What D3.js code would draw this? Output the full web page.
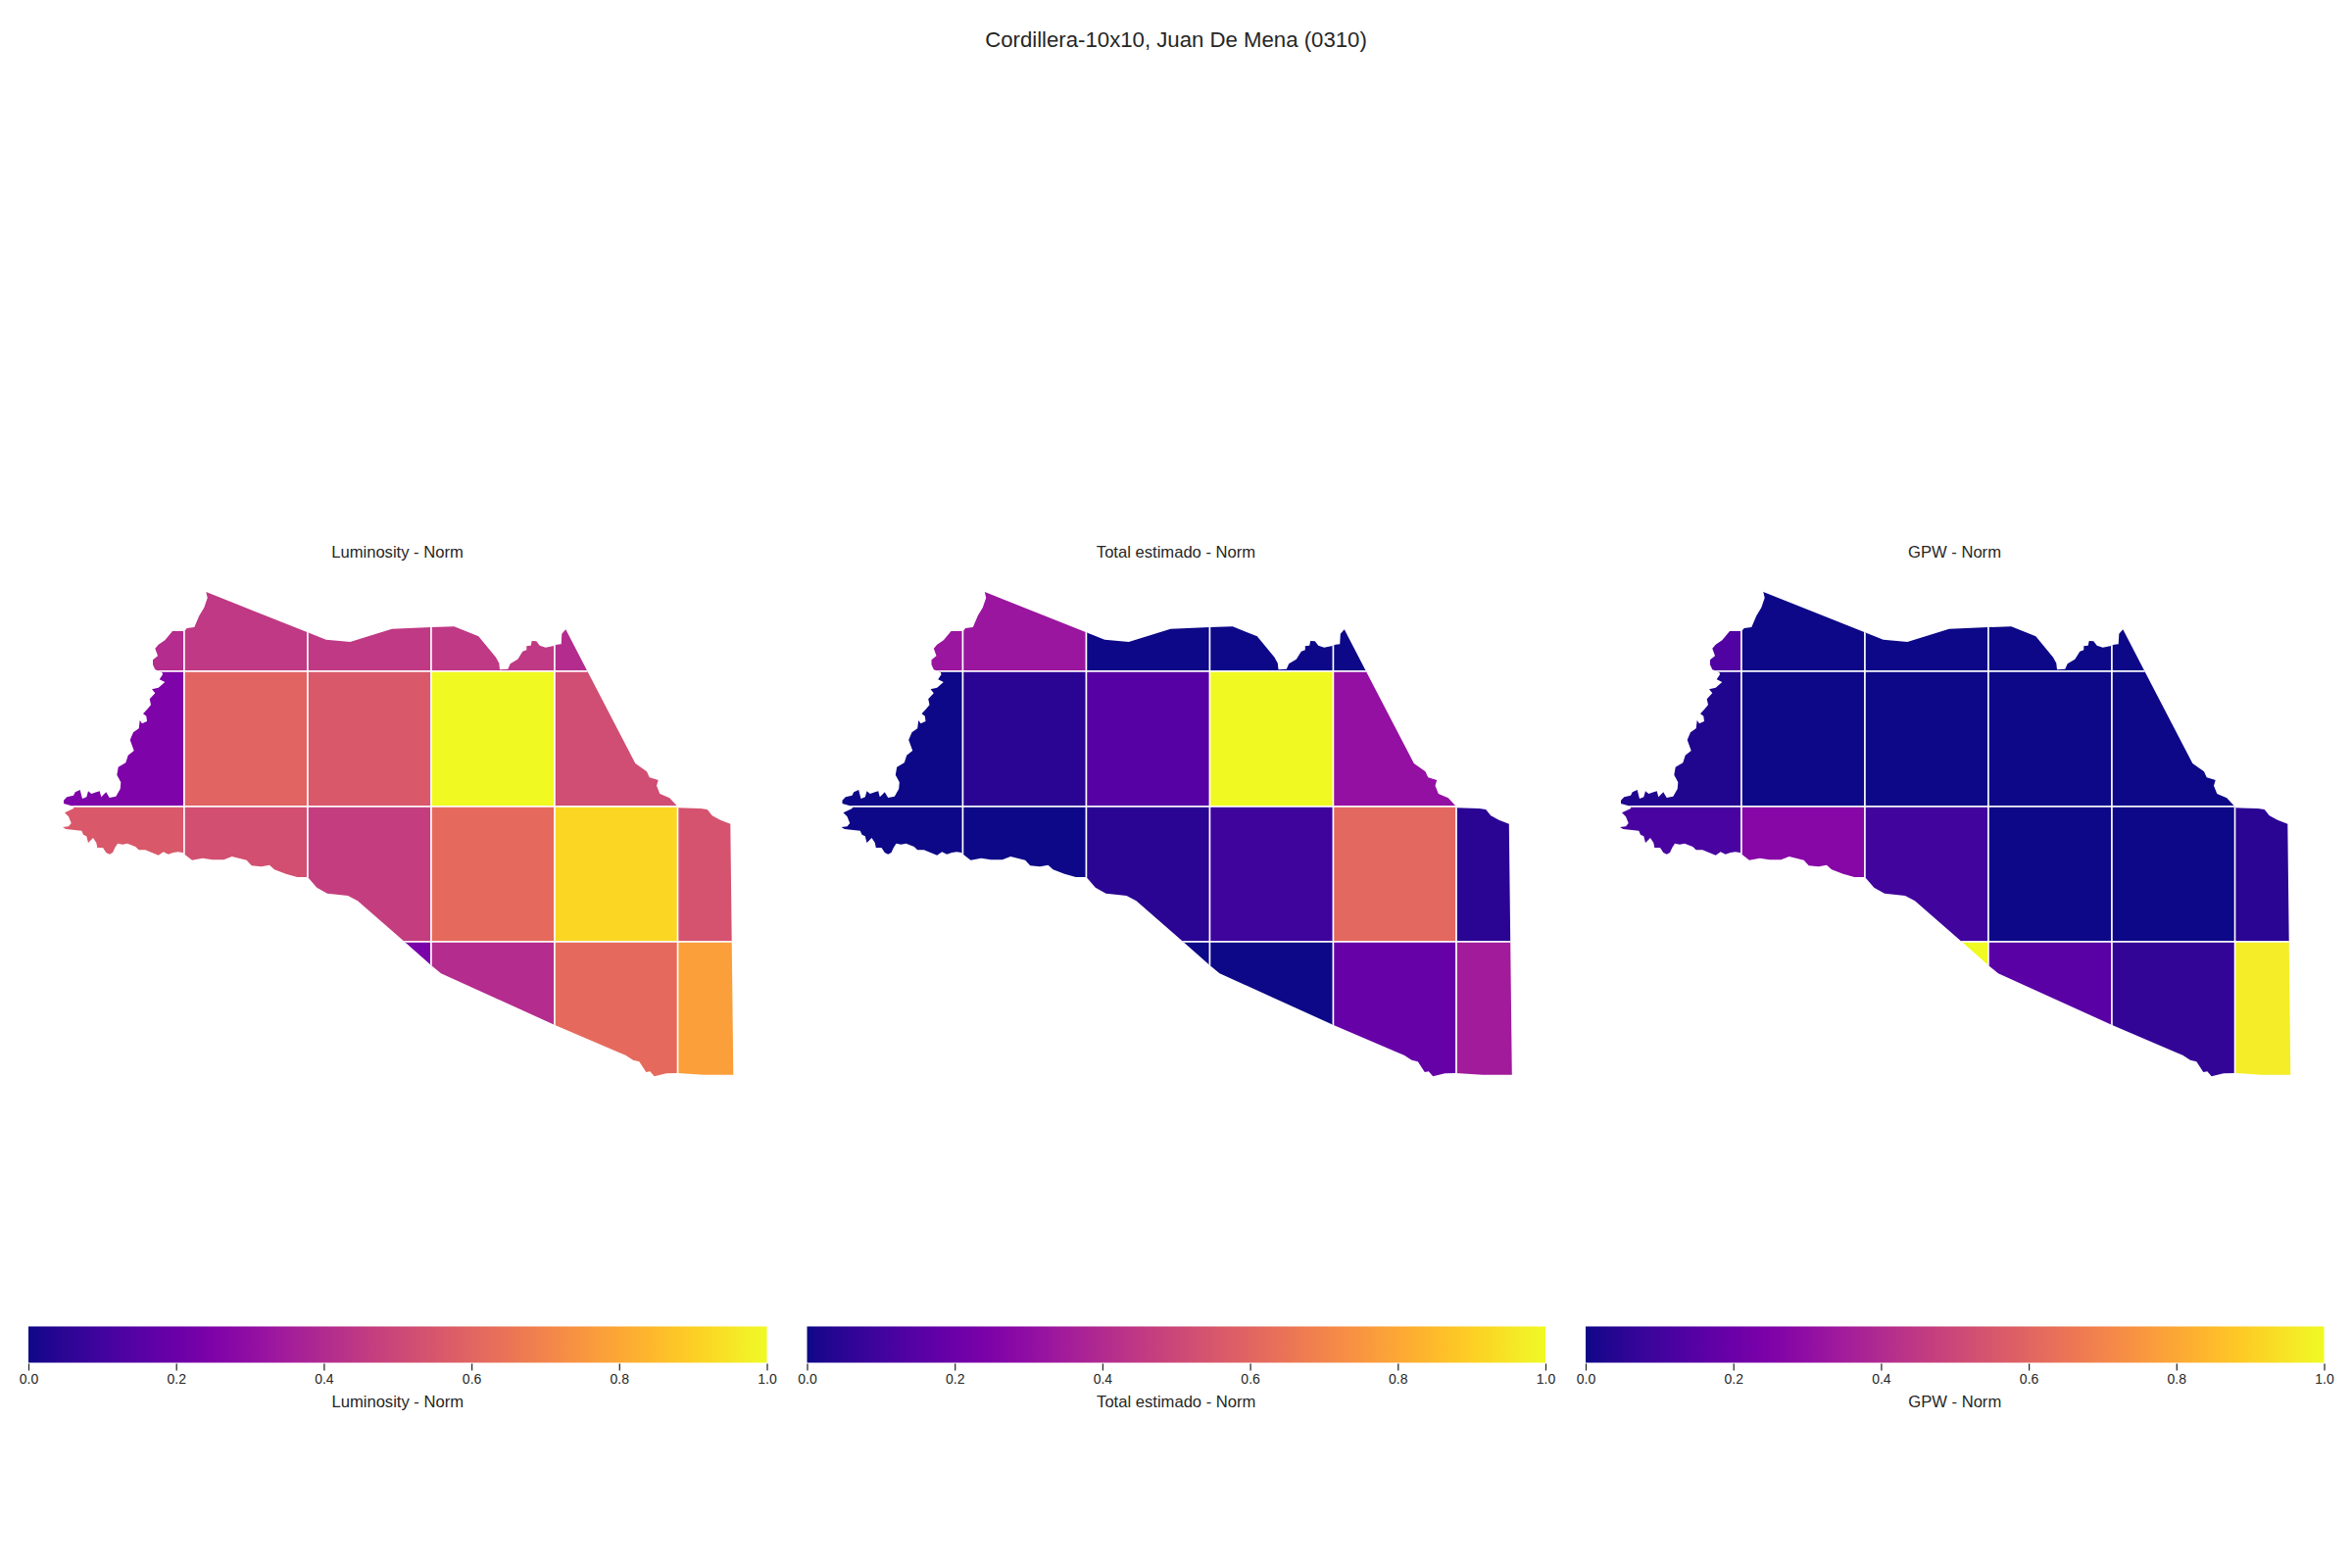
<!DOCTYPE html>
<html lang="en">
    <head>
        <meta charset="utf-8">
        <title>Cordillera-10x10, Juan De Mena (0310)</title>
        <script src='https://cdnjs.cloudflare.com/ajax/libs/d3/7.8.5/d3.min.js'></script>
        <style>
            body { margin: 0; background: #fff; }
            text { font-family: 'Liberation Sans', Arial, sans-serif; fill: #262626; }
        </style>
    </head>
    <body>
        <svg width='2400' height='1600'></svg>
        <script>
            var figTitle = 'Cordillera-10x10, Juan De Mena (0310)';
            var panelNames = ['Luminosity - Norm', 'Total estimado - Norm', 'GPW - Norm'];
            var barTicks = [0, 0.2, 0.4, 0.6, 0.8, 1];

            // grid edges in map units, same units as the outline
            var colEdges = [-126, 0, 126, 252, 378, 503.6, 629];
            var rowEdges = [138, 0, -138, -276, -414];

            // rows north to south, columns west to east
            var luminosity = [
                [0.41, 0.45, 0.45, 0.45, 0.41, null],
                [0.25, 0.60, 0.56, 1.00, 0.52, null],
                [0.56, 0.53, 0.47, 0.62, 0.92, 0.54],
                [null, null, 0.24, 0.41, 0.62, 0.78]
            ];
            var totalEstimado = [
                [0.33, 0.33, 0.00, 0.00, 0.00, null],
                [0.00, 0.05, 0.15, 1.00, 0.31, null],
                [0.00, 0.00, 0.05, 0.09, 0.61, 0.05],
                [null, null, 0.00, 0.00, 0.19, 0.35]
            ];
            var gpw = [
                [0.14, 0.00, 0.00, 0.00, 0.00, null],
                [0.03, 0.00, 0.00, 0.00, 0.00, null],
                [0.12, 0.27, 0.10, 0.00, 0.00, 0.05],
                [null, null, 1.00, 0.16, 0.07, 0.97]
            ];
            var panelValues = [luminosity, totalEstimado, gpw];

            var outlineEast = [22.3, 125.3, 144.7, 169.3, 212, 252, 275.3, 300.3, 318, 321.3, 322, 330.3, 332.7, 340.3, 345.3, 349.3, 349.3, 353.7, 354.7, 359.3, 362.7, 368.7, 377.3, 380.3, 384.7, 385.3, 389.3, 411.3, 460.3, 472, 474.7, 483.7, 482, 485.3, 495.3, 502.7, 503.7, 527, 533.7, 538.7, 547, 557.3, 558.7, 560.3, 530.3, 503, 492, 479.7, 475.3, 471.3, 464.3, 458, 450.3, 443.7, 377.7, 262, 252, 223.7, 177, 167, 146, 135.3, 126, 115.3, 103.7, 92, 87, 78.7, 68.7, 63.7, 48.7, 40.3, 28.7, 18.7, 8, 0.3, -1.3, -6.3, -11.3, -16.3, -21.3, -26.3, -33, -39.7, -46.3, -49.7, -58, -63, -68, -70.7, -73, -76.3, -79.7, -83, -88.7, -89.7, -93, -98, -99.7, -103, -104.7, -120.7, -124, -118, -115.3, -118, -122, -113, -112.3, -123, -123, -119.7, -113, -111.3, -106.3, -105.3, -104, -99.7, -98, -94.7, -89.7, -86.3, -84.7, -79.7, -76.3, -69.7, -65.3, -64.7, -68.7, -67.3, -59.7, -57.3, -51.3, -55.3, -52, -46.3, -45.3, -43, -38, -38.7, -42, -38, -34, -35.3, -29.7, -33, -26.3, -19.7, -25.3, -22, -22.7, -29.7, -32, -32, -27, -29.7, -26.3, -19.7, -12, 0.3, 2.7, 10.3, 15.3, 20.3, 23.7];
            var outlineNorth = [81, 40, 32.3, 30, 43.3, 45, 45.7, 35.7, 14.3, 8.3, 1.7, 2.3, 7.7, 12.3, 20.3, 21.7, 25.7, 26.3, 31, 30.7, 26.3, 24.3, 26, 27.3, 27.7, 38.3, 42.7, 0.3, -94, -102.3, -108.3, -111, -116.7, -125, -129.3, -137.3, -139.3, -140, -141, -147.3, -151.7, -155.7, -275, -411.7, -411.7, -410, -410.3, -413.3, -408.3, -409, -398.3, -396.7, -391.7, -389, -360.7, -308.3, -300, -275, -234.3, -229, -226.7, -220.7, -210, -210, -206.7, -202.3, -197.7, -199.3, -198.3, -192.7, -189, -192.3, -192.3, -190.7, -192.7, -186.7, -185, -184.3, -185, -186.7, -184.3, -187.7, -185, -182.3, -182.3, -179, -175.7, -176.7, -175.7, -180, -185, -186.7, -185, -180, -180, -175, -170, -175, -168.3, -166.7, -162.7, -161, -159, -158.3, -155, -148.3, -144.3, -140, -138, -135, -131.7, -128.3, -126.7, -123.3, -121, -125, -130, -128.3, -122.3, -125, -123.3, -122.3, -128.3, -123.3, -129, -127.7, -120, -113.3, -105.7, -97.7, -93.3, -85.7, -81, -70, -62.3, -58.3, -50, -53.3, -51, -45.7, -43.3, -39, -34.3, -28.3, -22.3, -18.3, -16.7, -11, -8.3, -3.3, -0.7, 1.7, 6.7, 11.7, 15.7, 23.3, 27.3, 31.7, 41, 41, 44, 45, 56.7, 65, 75];

            var panelStep = 794.5;
            var svg = d3.select('svg');
            var color = d3.scaleSequential(d3.interpolatePlasma).domain([0, 1]);
            var yScale = d3.scaleLinear().domain([138, -414]).range([547, 1099]);

            svg.append('text')
                .attr('x', 1200)
                .attr('y', 48)
                .attr('text-anchor', 'middle')
                .style('font-size', '22.2px')
                .text(figTitle);

            // colorbar gradient
            var grad = svg.append('defs').append('linearGradient').attr('id', 'plasmaBar');
            grad.selectAll('stop')
                .data(d3.range(0, 1.0001, 1 / 64))
                .enter()
                .append('stop')
                .attr('offset', d => d)
                .attr('stop-color', d => color(d));

            panelNames.forEach((name, p) => {
                var off = p * panelStep;
                var xScale = d3.scaleLinear().domain([-126, 629]).range([62 + off, 817 + off]);
                var line = d3.line().x(d => xScale(d[0])).y(d => yScale(d[1]));
                var outline = d3.zip(outlineEast, outlineNorth);

                svg.select('defs').append('clipPath')
                    .attr('id', 'shape' + p)
                    .append('path')
                    .attr('d', line(outline) + 'Z');

                var cells = [];
                panelValues[p].forEach((row, r) => row.forEach((v, c) => {
                    if (v !== null) cells.push({r: r, c: c, v: v});
                }));

                var g = svg.append('g').attr('clip-path', 'url(#shape' + p + ')');
                g.selectAll('rect.cell')
                    .data(cells)
                    .enter()
                    .append('rect')
                    .attr('class', 'cell')
                    .attr('x', d => xScale(colEdges[d.c]))
                    .attr('y', d => yScale(rowEdges[d.r]))
                    .attr('width', d => xScale(colEdges[d.c + 1]) - xScale(colEdges[d.c]))
                    .attr('height', d => yScale(rowEdges[d.r + 1]) - yScale(rowEdges[d.r]))
                    .style('fill', d => color(d.v))
                    .style('stroke', '#fff')
                    .style('stroke-width', 1.5);

                svg.append('text')
                    .attr('x', 405.5 + off)
                    .attr('y', 569)
                    .attr('text-anchor', 'middle')
                    .style('font-size', '16.6px')
                    .text(name);

                // colorbar
                var barScale = d3.scaleLinear().domain([0, 1]).range([29 + off, 782.5 + off]);
                svg.append('rect')
                    .attr('x', barScale(0))
                    .attr('y', 1353.5)
                    .attr('width', barScale(1) - barScale(0))
                    .attr('height', 37)
                    .style('fill', 'url(#plasmaBar)');

                var axis = d3.axisBottom(barScale)
                    .tickValues(barTicks)
                    .tickFormat(d3.format('.1f'))
                    .tickSize(7)
                    .tickPadding(4);
                var ag = svg.append('g').attr('transform', 'translate(0,1391.5)').call(axis);
                ag.select('.domain').remove();
                ag.selectAll('line').style('stroke', '#262626').style('stroke-width', 1.25);
                ag.selectAll('text').style('font-size', '14px').style('font-family', "'Liberation Sans', Arial, sans-serif");

                svg.append('text')
                    .attr('x', barScale(0.5))
                    .attr('y', 1436)
                    .attr('text-anchor', 'middle')
                    .style('font-size', '16.6px')
                    .text(name);
            });
        </script>
    </body>
</html>
